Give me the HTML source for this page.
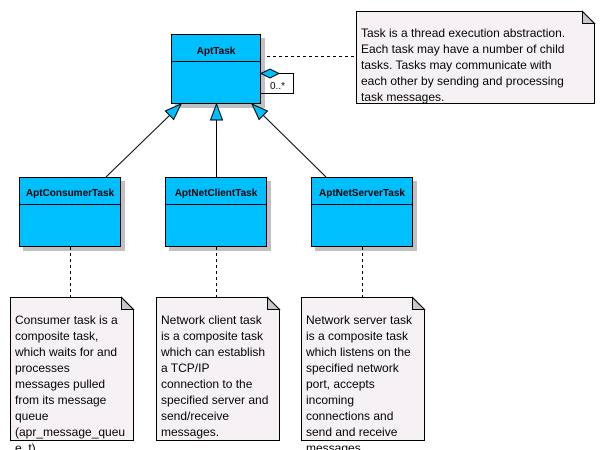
<!DOCTYPE html>
<html><head><meta charset="utf-8"><style>
html,body{margin:0;padding:0;background:#fff;}
svg{display:block;font-family:"Liberation Sans",Arial,sans-serif;}
.t{font-size:12px;fill:#000;}
.b{font-size:10px;font-weight:bold;fill:#000;}
</style></head><body>
<svg width="604" height="450" viewBox="0 0 604 450" xmlns="http://www.w3.org/2000/svg">
<!-- top note -->
<path d="M356.5 11.5 H582.5 L594.5 23.5 V103.5 H356.5 Z" fill="#f6f1f4" stroke="#000"/>
<path d="M582.5 11.5 V23.5 H594.5 Z" fill="#c8c8c8" stroke="#000"/>
<text class="t" x="361" y="37">Task is a thread execution abstraction.</text>
<text class="t" x="361" y="53">Each task may have a number of child</text>
<text class="t" x="361" y="69">tasks. Tasks may communicate with</text>
<text class="t" x="361" y="85">each other by sending and processing</text>
<text class="t" x="361" y="101">task messages.</text>
<line x1="261" y1="56.5" x2="356" y2="56.5" stroke="#000" stroke-dasharray="3,3"/>

<!-- AptTask -->
<rect x="175" y="38" width="90" height="70" fill="#c0c0c0"/>
<rect x="171.5" y="34.5" width="89" height="69" fill="#00bfff" stroke="#000"/>
<line x1="171.5" y1="61.5" x2="260.5" y2="61.5" stroke="#000"/>
<text class="b" x="216" y="54" text-anchor="middle">AptTask</text>
<!-- self aggregation -->
<polyline points="260.5,80.5 260.5,93.5 293.5,93.5 293.5,73.5 274,73.5" fill="none" stroke="#000"/>
<path d="M261 73.5 L270 69 L279 73.5 L270 78 Z" fill="#00bfff" stroke="#000"/>
<text x="270" y="89" style="font-size:10px">0..*</text>

<!-- generalization lines -->
<line x1="106" y1="177" x2="170" y2="115" stroke="#000"/>
<line x1="216.5" y1="177" x2="216.5" y2="120" stroke="#000"/>
<line x1="326" y1="177" x2="263" y2="115" stroke="#000"/>
<polygon points="181,104 173.7,119.5 165.3,110.9" fill="#00bfff" stroke="#000"/>
<polygon points="216.5,104 210.5,120 222.5,120" fill="#00bfff" stroke="#000"/>
<polygon points="252,104 259.1,119.5 267.5,111" fill="#00bfff" stroke="#000"/>

<!-- child boxes -->
<g>
<rect x="23" y="181" width="102" height="70" fill="#c0c0c0"/>
<rect x="19.5" y="177.5" width="101" height="69" fill="#00bfff" stroke="#000"/>
<line x1="19.5" y1="204.5" x2="120.5" y2="204.5" stroke="#000"/>
<text class="b" x="70" y="196" text-anchor="middle">AptConsumerTask</text>
</g>
<g>
<rect x="169" y="181" width="102" height="70" fill="#c0c0c0"/>
<rect x="165.5" y="177.5" width="101" height="69" fill="#00bfff" stroke="#000"/>
<line x1="165.5" y1="204.5" x2="266.5" y2="204.5" stroke="#000"/>
<text class="b" x="216" y="196" text-anchor="middle">AptNetClientTask</text>
</g>
<g>
<rect x="315" y="181" width="102" height="70" fill="#c0c0c0"/>
<rect x="311.5" y="177.5" width="101" height="69" fill="#00bfff" stroke="#000"/>
<line x1="311.5" y1="204.5" x2="412.5" y2="204.5" stroke="#000"/>
<text class="b" x="362" y="196" text-anchor="middle">AptNetServerTask</text>
</g>

<!-- dashed note links -->
<line x1="70.5" y1="247" x2="70.5" y2="297" stroke="#000" stroke-dasharray="3,3"/>
<line x1="216.5" y1="247" x2="216.5" y2="297" stroke="#000" stroke-dasharray="3,3"/>
<line x1="362.5" y1="247" x2="362.5" y2="297" stroke="#000" stroke-dasharray="3,3"/>

<!-- bottom notes -->
<path d="M10.5 297.5 H121.5 L133.5 309.5 V440.5 H10.5 Z" fill="#f6f1f4" stroke="#000"/>
<path d="M121.5 297.5 V309.5 H133.5 Z" fill="#c8c8c8" stroke="#000"/>
<text class="t" x="15" y="324">Consumer task is a</text>
<text class="t" x="15" y="340">composite task,</text>
<text class="t" x="15" y="356">which waits for and</text>
<text class="t" x="15" y="372">processes</text>
<text class="t" x="15" y="388">messages pulled</text>
<text class="t" x="15" y="404">from its message</text>
<text class="t" x="15" y="420">queue</text>
<text class="t" x="15" y="436">(apr_message_queu</text>
<text class="t" x="15" y="452">e_t)</text>

<path d="M156.5 297.5 H267.5 L279.5 309.5 V440.5 H156.5 Z" fill="#f6f1f4" stroke="#000"/>
<path d="M267.5 297.5 V309.5 H279.5 Z" fill="#c8c8c8" stroke="#000"/>
<text class="t" x="161" y="324">Network client task</text>
<text class="t" x="161" y="340">is a composite task</text>
<text class="t" x="161" y="356">which can establish</text>
<text class="t" x="161" y="372">a TCP/IP</text>
<text class="t" x="161" y="388">connection to the</text>
<text class="t" x="161" y="404">specified server and</text>
<text class="t" x="161" y="420">send/receive</text>
<text class="t" x="161" y="436">messages.</text>

<path d="M301.5 297.5 H412.5 L424.5 309.5 V440.5 H301.5 Z" fill="#f6f1f4" stroke="#000"/>
<path d="M412.5 297.5 V309.5 H424.5 Z" fill="#c8c8c8" stroke="#000"/>
<text class="t" x="306" y="324">Network server task</text>
<text class="t" x="306" y="340">is a composite task</text>
<text class="t" x="306" y="356">which listens on the</text>
<text class="t" x="306" y="372">specified network</text>
<text class="t" x="306" y="388">port, accepts</text>
<text class="t" x="306" y="404">incoming</text>
<text class="t" x="306" y="420">connections and</text>
<text class="t" x="306" y="436">send and receive</text>
<text class="t" x="306" y="452">messages.</text>
</svg>
</body></html>
